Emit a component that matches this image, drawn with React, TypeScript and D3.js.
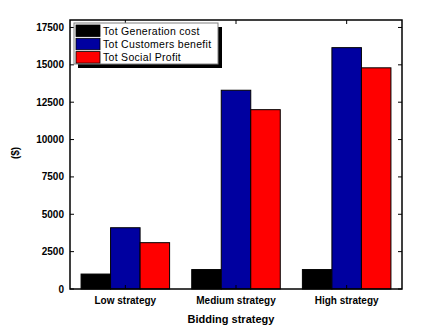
import * as d3 from "d3";
import React, { useEffect, useRef } from "react";

const categories = ["Low strategy", "Medium strategy", "High strategy"];
const seriesNames = ["Tot Generation cost", "Tot Customers benefit", "Tot Social Profit"];
const genCost = [1000, 1300, 1300];
const custBenefit = [4100, 13300, 16150];
const socialProfit = [3100, 12000, 14800];
const yTicks = [0, 2500, 5000, 7500, 10000, 12500, 15000, 17500];
const colors = ["#000000", "#0000a0", "#ff0000"];

const W = 433, H = 333;
const margin = { top: 20, right: 31, bottom: 44, left: 70 };

export default function App() {
  const ref = useRef<SVGSVGElement>(null);

  useEffect(() => {
    const svg = d3.select(ref.current);
    svg.selectAll("*").remove();

    const width = W - margin.left - margin.right;
    const height = H - margin.top - margin.bottom;
    const series = [genCost, custBenefit, socialProfit];

    const x = d3.scaleBand().domain(categories).range([0, width]).paddingInner(0.2).paddingOuter(0.1);
    const x1 = d3.scaleBand().domain(seriesNames).range([0, x.bandwidth()]);
    const y = d3.scaleLinear().domain([0, 18000]).range([height, 0]);
    const xc = d3.scalePoint().domain(categories).range([0, width]).padding(0.5);

    const g = svg.append("g").attr("transform", `translate(${margin.left},${margin.top})`);

    // bars
    categories.forEach((c, i) => {
      seriesNames.forEach((s, j) => {
        g.append("rect")
          .attr("x", x(c)! + x1(s)!)
          .attr("y", y(series[j][i]))
          .attr("width", x1.bandwidth())
          .attr("height", height - y(series[j][i]))
          .attr("fill", colors[j])
          .attr("stroke", "#000")
          .attr("stroke-width", 1);
      });
    });

    // frame
    g.append("rect")
      .attr("width", width).attr("height", height)
      .attr("fill", "none").attr("stroke", "#000").attr("stroke-width", 1.5);

    // y ticks both sides
    yTicks.forEach((t) => {
      g.append("line").attr("x1", 0).attr("x2", 4).attr("y1", y(t)).attr("y2", y(t)).attr("stroke", "#000");
      g.append("line").attr("x1", width - 4).attr("x2", width).attr("y1", y(t)).attr("y2", y(t)).attr("stroke", "#000");
      g.append("text")
        .attr("x", -6).attr("y", y(t)).attr("dy", "0.35em")
        .attr("text-anchor", "end")
        .style("font-family", "Liberation Sans, Arial, sans-serif")
        .style("font-weight", "bold").style("font-size", "10px")
        .text(String(t));
    });

    // x ticks top and bottom
    categories.forEach((c) => {
      g.append("line").attr("x1", xc(c)!).attr("x2", xc(c)!).attr("y1", height).attr("y2", height - 4).attr("stroke", "#000");
      g.append("line").attr("x1", xc(c)!).attr("x2", xc(c)!).attr("y1", 0).attr("y2", 4).attr("stroke", "#000");
      g.append("text")
        .attr("x", xc(c)!).attr("y", height + 15)
        .attr("text-anchor", "middle")
        .style("font-family", "Liberation Sans, Arial, sans-serif")
        .style("font-weight", "bold").style("font-size", "10px")
        .text(c);
    });

    // axis titles
    svg.append("text")
      .attr("x", margin.left + width / 2 - 5).attr("y", 323)
      .attr("text-anchor", "middle")
      .style("font-family", "Liberation Sans, Arial, sans-serif")
      .style("font-weight", "bold").style("font-size", "11px")
      .text("Bidding strategy");
    svg.append("text")
      .attr("transform", "translate(19,153) rotate(-90)")
      .attr("text-anchor", "middle")
      .style("font-family", "Liberation Sans, Arial, sans-serif")
      .style("font-weight", "bold").style("font-size", "10px")
      .text("($)");

    // legend
    const lg = svg.append("g").attr("transform", "translate(74,23)");
    lg.append("rect").attr("x", 4).attr("y", 4).attr("width", 144).attr("height", 41).attr("fill", "#000");
    lg.append("rect").attr("x", 0).attr("y", 0).attr("width", 144).attr("height", 41)
      .attr("fill", "#fff").attr("stroke", "#808080").attr("stroke-width", 1);
    seriesNames.forEach((s, j) => {
      lg.append("rect")
        .attr("x", 2).attr("y", 2 + j * 13.3).attr("width", 24).attr("height", 11.5)
        .attr("fill", colors[j]).attr("stroke", "#000").attr("stroke-width", 0.8);
      lg.append("text")
        .attr("x", 29).attr("y", 8 + j * 13.3).attr("dy", "0.35em")
        .style("font-family", "Liberation Sans, Arial, sans-serif")
        .style("font-size", "10.5px")
        .style("letter-spacing", "0.3px")
        .text(s);
    });
  }, []);

  return (
    <svg ref={ref} width={W} height={H} style={{ position: "absolute", left: 0, top: 0, background: "#fff" }} />
  );
}
